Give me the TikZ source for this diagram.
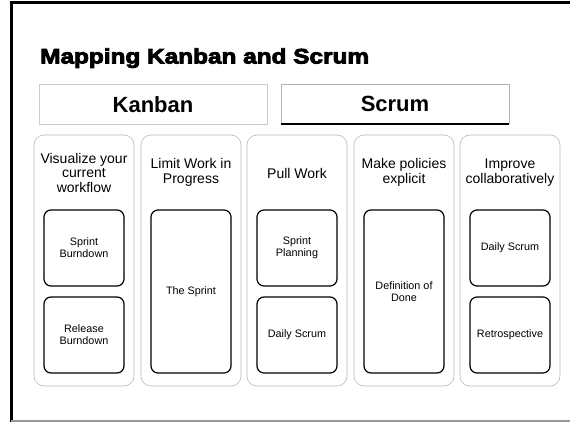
\documentclass[tikz,border=0pt]{standalone}
\usepackage{fontspec}
\setmainfont{Liberation Sans}
\newfontfamily\titlefont{Liberation Sans}[FakeStretch=1.16,FakeBold=4]
\begin{document}
\begin{tikzpicture}[x=1pt,y=-1pt,
  colbox/.style={draw=gray!55,line width=0.6pt,rounded corners=10pt,minimum width=100pt,minimum height=251pt,inner sep=0pt},
  head/.style={align=center,font=\fontsize{14}{14.5}\selectfont,inner sep=0pt},
  card/.style={draw=black,line width=1.2pt,rounded corners=7pt,minimum width=80pt,inner sep=0pt,align=center,font=\fontsize{10.8}{11.8}\selectfont},
  smallcard/.style={card,minimum height=76pt},
  tallcard/.style={card,minimum height=163pt},
  band/.style={minimum width=228pt,minimum height=39.5pt,inner sep=0pt,font=\fontsize{22}{24}\selectfont\bfseries}
]
\useasboundingbox (0,0) rectangle (570,422);
% frame
\coordinate (ftl) at (10,2.3);
\coordinate (ftr) at (570,2.3);
\coordinate (fl) at (11.3,1);
\coordinate (fbl) at (11.3,422);
\coordinate (bl) at (11,420.8);
\coordinate (br) at (570,420.8);
\draw[line width=2.5pt] (ftl) -- (ftr);
\draw[line width=2.5pt] (fl) -- (fbl);
\draw[gray!80,line width=1.5pt] (bl) -- (br);
% title
\node[anchor=base west,inner sep=0pt,font=\titlefont\bfseries\fontsize{21}{24}\selectfont] (title) at (40,63.5) {Mapping Kanban and Scrum};
% bands
\node[band,draw=gray!40,line width=0.8pt] (kanban) at (153,104.5) {Kanban};
\node[band,draw=gray!60,line width=0.8pt] (scrum) at (395,104) {Scrum};
\draw[line width=1.3pt] (scrum.south west) -- (scrum.south east);
% columns
\foreach \i/\x in {1/34,2/141,3/247,4/354,5/460}{
  \node[colbox] (c\i) at (\x+50,260.5) {};
}
\node[head] (h1) at (84,172.5) {Visualize your\\current\\workflow};
\node[head] (h2) at (191,172.5) {Limit Work in\\Progress};
\node[head] (h3) at (297,173) {Pull Work};
\node[head] (h4) at (404,172.5) {Make policies\\explicit};
\node[head] (h5) at (510,172.5) {Improve\\collaboratively};
% cards
\node[smallcard] (k1a) at (84,248) {Sprint\\Burndown};
\node[smallcard] (k1b) at (84,335) {Release\\Burndown};
\node[tallcard] (k2) at (191,291.5) {The Sprint};
\node[smallcard] (k3a) at (297,248) {Sprint\\Planning};
\node[smallcard] (k3b) at (297,335) {Daily Scrum};
\node[tallcard] (k4) at (404,291.5) {Definition of\\Done};
\node[smallcard] (k5a) at (510,248) {Daily Scrum};
\node[smallcard] (k5b) at (510,335) {Retrospective};
\end{tikzpicture}
\end{document}
